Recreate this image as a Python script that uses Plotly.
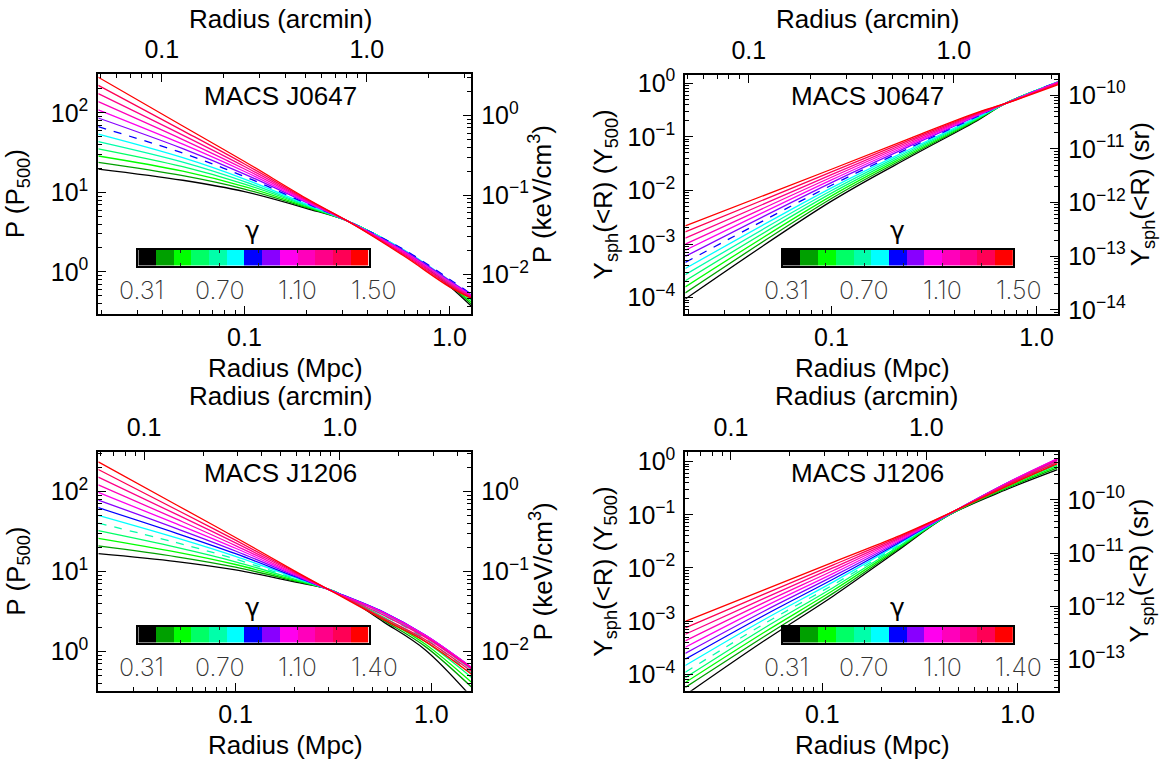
import numpy as np
import plotly.graph_objects as go

W, H = 1175, 774

# ---------------- data ----------------
GAMMA_COLORS = ["#000000", "#00a000", "#00ff00", "#00ff66", "#00ffaa", "#00ffff",
                "#0000ff", "#8800ff", "#ff00ee", "#ff00bb", "#ff0088", "#ff0055", "#ff0000"]
GAMMA_J0647 = [0.31, 0.41, 0.51, 0.61, 0.71, 0.80, 0.90, 1.00, 1.10, 1.20, 1.30, 1.40, 1.50]
GAMMA_J1206 = [0.31, 0.40, 0.49, 0.58, 0.67, 0.76, 0.85, 0.95, 1.04, 1.13, 1.22, 1.31, 1.40]
CB_LABELS_J0647 = ["0.31", "0.70", "1.10", "1.50"]
CB_LABELS_J1206 = ["0.31", "0.70", "1.10", "1.40"]
BEST_J0647 = 6   # dashed curve index
BEST_J1206 = 4

# MACS J0647 pressure: radius samples (Mpc) and log10 P/P500, one row per radius, columns = gamma index
J0647_P_R = [0.01936, 0.05, 0.1, 0.2, 0.327, 0.6, 1.0, 1.276]
J0647_P_LOG = [
    [1.294, 1.377, 1.458, 1.548, 1.638, 1.733, 1.826, 1.936, 2.039, 2.141, 2.243, 2.346, 2.448],
    [1.153, 1.210, 1.267, 1.323, 1.380, 1.437, 1.494, 1.551, 1.607, 1.664, 1.721, 1.778, 1.835],
    [1.010, 1.042, 1.073, 1.105, 1.136, 1.168, 1.200, 1.231, 1.263, 1.294, 1.326, 1.357, 1.389],
    [0.800, 0.811, 0.821, 0.832, 0.842, 0.853, 0.863, 0.874, 0.884, 0.895, 0.905, 0.916, 0.926],
    [0.628, 0.628, 0.627, 0.627, 0.627, 0.626, 0.626, 0.625, 0.625, 0.624, 0.623, 0.623, 0.622],
    [0.258, 0.261, 0.265, 0.269, 0.272, 0.276, 0.280, 0.266, 0.253, 0.239, 0.226, 0.212, 0.199],
    [-0.180, -0.166, -0.151, -0.136, -0.122, -0.107, -0.092, -0.108, -0.124, -0.140, -0.156, -0.172, -0.188],
    [-0.430, -0.405, -0.380, -0.355, -0.330, -0.305, -0.280, -0.288, -0.297, -0.305, -0.313, -0.322, -0.330],
]

# MACS J0647 integrated Y_sph(<R) in Y500 (log10)
J0647_Y_R = [0.01936, 0.1, 0.25, 0.5, 0.72, 1.276]
J0647_Y_LOG = [
    [-4.024, -3.910, -3.797, -3.683, -3.570, -3.456, -3.342, -3.229, -3.115, -3.002, -2.888, -2.774, -2.661],
    [-2.200, -2.150, -2.101, -2.051, -2.002, -1.952, -1.903, -1.853, -1.804, -1.754, -1.704, -1.655, -1.605],
    [-1.345, -1.317, -1.289, -1.260, -1.232, -1.204, -1.176, -1.147, -1.119, -1.091, -1.063, -1.034, -1.006],
    [-0.724, -0.711, -0.697, -0.684, -0.671, -0.657, -0.644, -0.631, -0.617, -0.604, -0.591, -0.577, -0.564],
    [-0.360, -0.361, -0.362, -0.362, -0.363, -0.364, -0.364, -0.365, -0.366, -0.367, -0.368, -0.369, -0.370],
    [0.010, 0.015, 0.020, 0.022, 0.025, 0.027, 0.027, 0.025, 0.020, 0.012, 0.000, -0.012, -0.028],
]

# MACS J1206 pressure (log10 P/P500)
J1206_P_R = [0.0199, 0.05, 0.1, 0.2, 0.315, 0.57, 0.93, 1.6]
J1206_P_LOG = [
    [1.224, 1.320, 1.415, 1.511, 1.606, 1.702, 1.798, 1.893, 1.989, 2.084, 2.180, 2.275, 2.371],
    [1.125, 1.184, 1.243, 1.302, 1.361, 1.420, 1.478, 1.537, 1.596, 1.655, 1.714, 1.773, 1.832],
    [1.020, 1.054, 1.088, 1.122, 1.155, 1.189, 1.223, 1.257, 1.291, 1.324, 1.358, 1.392, 1.426],
    [0.870, 0.882, 0.893, 0.905, 0.916, 0.928, 0.939, 0.951, 0.963, 0.974, 0.986, 0.997, 1.009],
    [0.760, 0.759, 0.758, 0.757, 0.756, 0.755, 0.754, 0.753, 0.751, 0.750, 0.748, 0.747, 0.745],
    [0.371, 0.390, 0.410, 0.430, 0.455, 0.475, 0.493, 0.493, 0.488, 0.480, 0.455, 0.420, 0.400],
    [0.024, 0.065, 0.095, 0.125, 0.160, 0.185, 0.205, 0.207, 0.205, 0.195, 0.180, 0.150, 0.127],
    [-0.565, -0.440, -0.380, -0.320, -0.270, -0.225, -0.200, -0.195, -0.195, -0.200, -0.215, -0.245, -0.280],
]

# MACS J1206 integrated Y_sph(<R) in Y500 (log10)
J1206_Y_R = [0.0199, 0.05, 0.114, 0.24, 0.431, 0.885, 1.6]
J1206_Y_LOG = [
    [-4.390, -4.248, -4.156, -4.064, -3.963, -3.835, -3.716, -3.606, -3.492, -3.371, -3.248, -3.127, -3.004],
    [-3.380, -3.300, -3.220, -3.139, -3.059, -2.979, -2.899, -2.819, -2.738, -2.658, -2.578, -2.498, -2.418],
    [-2.527, -2.474, -2.421, -2.368, -2.315, -2.262, -2.208, -2.155, -2.102, -2.049, -1.996, -1.943, -1.890],
    [-1.690, -1.667, -1.645, -1.622, -1.599, -1.576, -1.554, -1.531, -1.508, -1.485, -1.463, -1.440, -1.417],
    [-1.035, -1.033, -1.030, -1.027, -1.024, -1.021, -1.018, -1.015, -1.012, -1.009, -1.006, -1.003, -1.000],
    [-0.520, -0.500, -0.480, -0.460, -0.440, -0.420, -0.405, -0.400, -0.402, -0.410, -0.425, -0.440, -0.460],
    [-0.152, -0.120, -0.090, -0.060, -0.030, -0.005, 0.030, 0.050, 0.055, 0.045, 0.020, -0.010, -0.040],
]

# axis conversions
MPC_PER_ARCMIN_J0647 = 0.395
MPC_PER_ARCMIN_J1206 = 0.341
P500_KEV_J0647 = 0.0108
P500_KEV_J1206 = 0.0100
Y500_SR_J0647 = 1.68e-10
Y500_SR_J1206 = 5.26e-10

# ---------------- layout helpers ----------------
FONT = "Liberation Sans, Arial, Helvetica, sans-serif"
TICKFONT = dict(family=FONT, size=25, color="black")
TITLE_SIZE = 26


def fx(px):
    return px / W


def fy(py):
    return 1 - py / H


def minor_vals(lo, hi):
    out = []
    for k in range(int(np.floor(lo)) - 1, int(np.ceil(hi)) + 1):
        for m in range(2, 10):
            v = m * 10.0 ** k
            if lo <= np.log10(v) <= hi:
                out.append(v)
    return out


def decade_ticks(lo, hi):
    ks = list(range(int(np.ceil(lo)), int(np.floor(hi)) + 1))
    vals = [10.0 ** k for k in ks]
    txt = ["10<sup>%s</sup>" % (str(k).replace("-", "\u2212")) for k in ks]
    return vals, txt


def axis_common():
    return dict(showline=True, linecolor="black", linewidth=2, ticks="inside",
                ticklen=8, tickwidth=1.2, tickcolor="black", showgrid=False,
                zeroline=False, tickfont=TICKFONT, type="log")


def txt(text, x, y, size=TITLE_SIZE, angle=0, family=FONT, color="black", weight=None):
    f = dict(family=family, size=size, color=color)
    if weight is not None:
        f["weight"] = weight
    return dict(text=text, x=fx(x), y=fy(y), xref="paper", yref="paper", showarrow=False,
                xanchor="center", yanchor="middle", textangle=angle, font=f)


fig = go.Figure()
annotations = []

panels = [
    dict(R=J0647_P_R, L=J0647_P_LOG, best=BEST_J0647, cb=CB_LABELS_J0647, name="MACS J0647",
         box=(98.3, 471.2, 67.0, 312.3), xr=(np.log10(0.01936), np.log10(1.276)), yr=(-0.525, 2.485),
         arc=MPC_PER_ARCMIN_J0647, conv=P500_KEV_J0647, roff=70,
         ylab="P (P<sub>500</sub>)", rlab="P (keV/cm<sup>3</sup>)", cbbox=(138.3, 368.5, 247.0, 263.0)),
    dict(R=J0647_Y_R, L=J0647_Y_LOG, best=BEST_J0647, cb=CB_LABELS_J0647, name="MACS J0647",
         box=(685.3, 1058.2, 67.3, 312.3), xr=(np.log10(0.01936), np.log10(1.276)), yr=(-4.296, 0.158),
         arc=MPC_PER_ARCMIN_J0647, conv=Y500_SR_J0647, roff=83,
         ylab="Y<sub>sph</sub>(&lt;R) (Y<sub>500</sub>)", rlab="Y<sub>sph</sub>(&lt;R) (sr)",
         cbbox=(782.8, 1013.0, 247.0, 263.0)),
    dict(R=J1206_P_R, L=J1206_P_LOG, best=BEST_J1206, cb=CB_LABELS_J1206, name="MACS J1206",
         box=(98.3, 471.2, 454.0, 699.0), xr=(np.log10(0.0199), np.log10(1.6)), yr=(-0.491, 2.496),
         arc=MPC_PER_ARCMIN_J1206, conv=P500_KEV_J1206, roff=70,
         ylab="P (P<sub>500</sub>)", rlab="P (keV/cm<sup>3</sup>)", cbbox=(138.3, 368.5, 633.5, 649.5)),
    dict(R=J1206_Y_R, L=J1206_Y_LOG, best=BEST_J1206, cb=CB_LABELS_J1206, name="MACS J1206",
         box=(685.3, 1057.5, 454.0, 699.0), xr=(np.log10(0.0199), np.log10(1.6)), yr=(-4.312, 0.183),
         arc=MPC_PER_ARCMIN_J1206, conv=Y500_SR_J1206, roff=83,
         ylab="Y<sub>sph</sub>(&lt;R) (Y<sub>500</sub>)", rlab="Y<sub>sph</sub>(&lt;R) (sr)",
         cbbox=(782.8, 1013.0, 633.5, 649.5)),
]

CB_LABEL_POS = [-0.31, 4.10, 8.51, 12.83]
CB_TICK_POS = [1.9, 4.1, 6.3, 8.5, 10.7]

layout_axes = {}


def axkey(letter, n):
    return ("%saxis" % letter) if n == 1 else ("%saxis%d" % (letter, n))


def axref(letter, n):
    return letter if n == 1 else "%s%d" % (letter, n)


for p, P in enumerate(panels):
    n = 1 + 3 * p
    x0, x1, y0, y1 = P["box"]
    xdom = [fx(x0), fx(x1)]
    ydom = [fy(y1), fy(y0)]
    xr, yr = P["xr"], P["yr"]

    # curves
    rows = P["L"]
    for i, col in enumerate(GAMMA_COLORS):
        yv = [10.0 ** row[i] for row in rows]
        fig.add_trace(go.Scatter(
            x=P["R"], y=yv, mode="lines",
            line=dict(color=col, width=1.3, shape="spline", smoothing=1.0,
                      dash="8px,8px" if i == P["best"] else "solid"),
            xaxis=axref("x", n), yaxis=axref("y", n), showlegend=False, hoverinfo="skip"))

    # dummy traces to attach the secondary axes
    fig.add_trace(go.Scatter(x=[], y=[], xaxis=axref("x", n + 1), yaxis=axref("y", n),
                             showlegend=False, hoverinfo="skip"))
    fig.add_trace(go.Scatter(x=[], y=[], xaxis=axref("x", n), yaxis=axref("y", n + 1),
                             showlegend=False, hoverinfo="skip"))

    # bottom Mpc axis
    ax = axis_common()
    ax.update(domain=xdom, range=list(xr), anchor=axref("y", n), side="bottom",
              tickvals=[0.1, 1.0], ticktext=["0.1", "1.0"], ticklabelstandoff=0,
              minor=dict(tickvals=minor_vals(*xr), ticks="inside", ticklen=4, tickcolor="black", tickwidth=1))
    layout_axes[axkey("x", n)] = ax

    # top arcmin axis
    ar = (xr[0] - np.log10(P["arc"]), xr[1] - np.log10(P["arc"]))
    ax = axis_common()
    ax.update(range=list(ar), overlaying=axref("x", n), anchor=axref("y", n), side="top",
              tickvals=[0.1, 1.0], ticktext=["0.1", "1.0"], ticklabelstandoff=4,
              minor=dict(tickvals=minor_vals(*ar), ticks="inside", ticklen=4, tickcolor="black", tickwidth=1))
    layout_axes[axkey("x", n + 1)] = ax

    # left axis
    tv, tt = decade_ticks(*yr)
    ax = axis_common()
    ax.update(domain=ydom, range=list(yr), anchor=axref("x", n), side="left",
              tickvals=tv, ticktext=tt, ticklabelstandoff=3,
              minor=dict(tickvals=minor_vals(*yr), ticks="inside", ticklen=4, tickcolor="black", tickwidth=1))
    layout_axes[axkey("y", n)] = ax

    # right axis
    rr = (yr[0] + np.log10(P["conv"]), yr[1] + np.log10(P["conv"]))
    tv, tt = decade_ticks(*rr)
    ax = axis_common()
    ax.update(range=list(rr), overlaying=axref("y", n), anchor=axref("x", n), side="right",
              tickvals=tv, ticktext=tt, ticklabelstandoff=3,
              minor=dict(tickvals=minor_vals(*rr), ticks="inside", ticklen=4, tickcolor="black", tickwidth=1))
    layout_axes[axkey("y", n + 1)] = ax

    # colour bar (heatmap of the gamma colours)
    cx0, cx1, cy0, cy1 = P["cbbox"]
    ncol = len(GAMMA_COLORS)
    fig.add_trace(go.Heatmap(
        z=[list(range(ncol))], x=list(range(ncol)), y=[0],
        colorscale=[[i / (ncol - 1), c] for i, c in enumerate(GAMMA_COLORS)],
        zmin=0, zmax=ncol - 1, showscale=False, hoverinfo="skip",
        xaxis=axref("x", n + 2), yaxis=axref("y", n + 2)))
    layout_axes[axkey("x", n + 2)] = dict(
        domain=[fx(cx0), fx(cx1)], range=[-0.5, ncol - 0.5], anchor=axref("y", n + 2),
        showline=True, mirror="ticks", linecolor="black", linewidth=2, ticks="inside",
        tickvals=CB_TICK_POS, ticklen=3, tickcolor="#222222", tickwidth=1,
        showticklabels=False, showgrid=False, zeroline=False, fixedrange=True)
    layout_axes[axkey("y", n + 2)] = dict(
        domain=[fy(cy1), fy(cy0)], range=[-0.5, 0.5], anchor=axref("x", n + 2),
        showline=True, mirror=True, linecolor="black", linewidth=2, ticks="",
        showticklabels=False, showgrid=False, zeroline=False, fixedrange=True)

    for pos, lab in zip(CB_LABEL_POS, P["cb"]):
        xpx = cx0 + (pos + 0.5) / ncol * (cx1 - cx0)
        annotations.append(txt(lab, xpx, cy1 + 25.5, size=25, family="Inter, Lato, sans-serif",
                               color="#333333", weight=200))
    annotations.append(txt("\u03b3", (cx0 + cx1) / 2 - 0.5, cy0 - 20, size=25,
                           family="DejaVu Sans, sans-serif"))

    # texts
    cxm = (x0 + x1) / 2
    annotations.append(txt(P["name"], cxm - 4, y0 + 22))
    annotations.append(txt("Radius (arcmin)", cxm - 4, y0 - 57))
    annotations.append(txt("Radius (Mpc)", cxm + 1, y1 + 56))
    annotations.append(txt(P["ylab"], x0 - 81, (y0 + y1) / 2, angle=-90))
    annotations.append(txt(P["rlab"], x1 + P["roff"], (y0 + y1) / 2, angle=-90))

fig.update_layout(
    width=W, height=H, margin=dict(l=0, r=0, t=0, b=0),
    paper_bgcolor="white", plot_bgcolor="white", showlegend=False,
    annotations=annotations, **layout_axes)

fig.write_html("out.html")
